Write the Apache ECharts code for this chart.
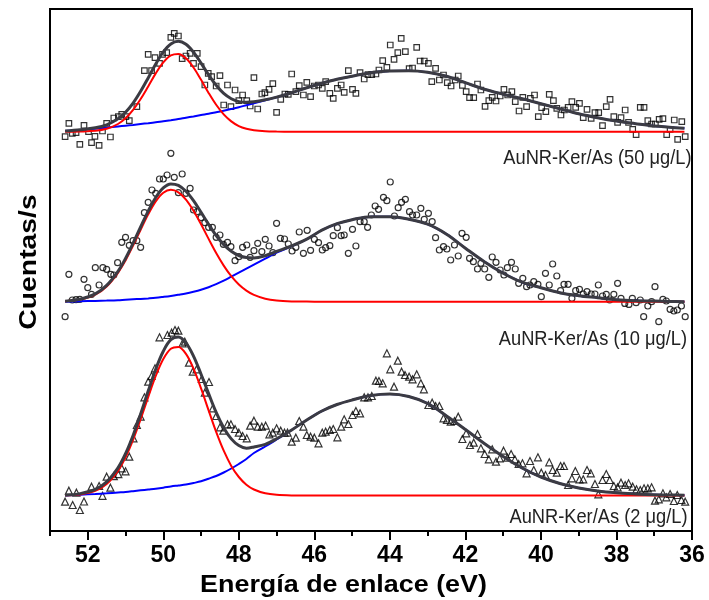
<!DOCTYPE html>
<html>
<head>
<meta charset="utf-8">
<script src="https://cdn.jsdelivr.net/npm/echarts@6/dist/echarts.min.js"></script>
<style>
  html, body { margin: 0; padding: 0; background: #fff; }
  #chart { width: 709px; height: 600px; }
</style>
</head>
<body>
<div id="chart"></div>
<script>
// Binding energy axis (eV), drawn high to low
const energyTicks = [52, 50, 48, 46, 44, 42, 40, 38, 36];
const energyMinorTicks = [53, 51, 49, 47, 45, 43, 41, 39, 37];

// Sample names, bottom to top
const sampleLabels = ['AuNR-Ker/As (2 μg/L)', 'AuNR-Ker/As (10 μg/L)', 'AuNR-Ker/As (50 μg/L)'];

// Vertical offset of each spectrum (counts, arbitrary units), bottom to top
const baselineOffsets = [35.5, 229.3, 399.3];

// Energies where the fitted curves are sampled
const fitEnergy = [52.6, 52.2, 51.8, 51.5, 51.2, 51.0, 50.8, 50.6, 50.4, 50.2,
  50.0, 49.8, 49.6, 49.4, 49.2, 49.0, 48.8, 48.6, 48.4, 48.2,
  48.0, 47.8, 47.6, 47.3, 47.0, 46.6, 46.2, 45.8, 45.4, 45.0,
  44.5, 44.0, 43.5, 43.0, 42.5, 42.0, 41.5, 41.0, 40.5, 40.0,
  39.5, 39.0, 38.5, 38.0, 37.5, 37.0, 36.6, 36.2];

// ---- 2 μg/L ----
const peakA_2 = [0.2, 1.1, 4.6, 11.5, 24.7, 38.3, 55.7, 76.3, 98.4, 119.5,
  136.5, 146.8, 148.6, 141.6, 126.9, 107.1, 85.1, 63.6, 44.8, 29.6,
  18.5, 10.8, 6.0, 2.2, 0.7, 0.1, 0, 0, 0, 0,
  0, 0, 0, 0, 0, 0, 0, 0, 0, 0,
  0, 0, 0, 0, 0, 0, 0, 0];
const peakB_2 = [0, 0.8, 1.5, 2.2, 3.0, 3.5, 4.3, 5.2, 6.0, 6.8,
  7.8, 9.0, 10.0, 11.0, 12.5, 14.2, 16.8, 19.5, 23.0, 27.0,
  31.5, 36.5, 42.5, 49.0, 56.0, 65.5, 75.5, 84.5, 91.0, 95.5,
  100.0, 101.5, 99.0, 92.0, 79.5, 66.0, 52.0, 39.0, 27.5, 18.5,
  12.0, 7.5, 4.5, 2.7, 1.6, 0.8, 0.5, 0.2];
const envelope_2 = [0.2, 1.9, 6.1, 13.7, 27.7, 41.8, 60.0, 81.5, 104.4, 126.3,
  144.3, 155.8, 158.6, 152.6, 139.4, 121.3, 101.9, 83.1, 67.8, 56.6,
  50.0, 47.3, 48.5, 51.2, 56.7, 65.6, 75.5, 84.5, 91.0, 95.5,
  100.0, 101.5, 99.0, 92.0, 79.5, 66.0, 52.0, 39.0, 27.5, 18.5,
  12.0, 7.5, 4.5, 2.7, 1.6, 0.8, 0.5, 0.2];
const counts_2 = [
  [52.60,-6.2],[52.50,4.8],[52.40,-9.5],[52.30,2.8],[52.21,-14.5],[52.10,-6.0],[51.90,8.8],[51.70,9.5],
  [51.61,-0.3],[51.50,18.8],[51.40,7.8],[51.31,19.3],[51.19,21.3],[51.10,27.2],[51.00,24.2],[50.90,38.8],
  [50.79,57.2],[50.70,70.5],[50.60,78.8],[50.50,98.2],[50.40,113.8],[50.31,119.5],[50.22,127.2],[50.10,158.2],
  [49.89,160.5],[49.78,162.8],[49.69,165.5],[49.60,164.8],[49.49,152.2],[49.43,153.8],[49.32,132.8],[49.22,123.8],
  [49.12,126.2],[48.98,116.5],[48.90,102.8],[48.79,113.5],[48.69,87.2],[48.60,79.5],[48.50,68.2],[48.41,64.8],
  [48.30,71.2],[48.21,71.2],[48.10,66.5],[48.00,62.8],[47.90,59.5],[47.79,57.2],[47.70,69.8],[47.60,74.8],
  [47.50,68.8],[47.39,68.8],[47.29,69.8],[47.19,61.2],[47.10,62.8],[47.00,67.2],[46.89,64.8],[46.79,62.8],
  [46.71,62.8],[46.60,53.8],[46.49,57.8],[46.40,74.5],[46.29,68.8],[46.20,60.5],[46.10,58.8],[46.00,57.8],
  [45.89,52.2],[45.79,62.8],[45.70,63.8],[45.59,65.5],[45.50,66.5],[45.39,58.2],[45.29,68.8],[45.21,76.2],
  [45.10,71.5],[44.99,80.5],[44.90,84.5],[44.79,82.2],[44.68,98.2],[44.58,98.2],[44.48,99.5],[44.37,114.8],
  [44.29,114.5],[44.19,112.2],[44.08,142.2],[43.99,126.2],[43.89,108.8],[43.79,134.8],[43.69,123.8],[43.60,120.5],
  [43.49,118.8],[43.40,116.2],[43.29,121.2],[43.18,112.2],[43.10,106.2],[42.98,90.5],[42.88,92.8],[42.79,89.5],
  [42.69,89.5],[42.58,77.2],[42.49,75.5],[42.39,73.8],[42.29,74.5],[42.19,78.8],[42.08,56.5],[41.98,62.2],
  [41.88,50.5],[41.78,52.8],[41.68,61.5],[41.59,47.2],[41.49,41.5],[41.38,36.2],[41.29,46.2],[41.19,33.8],
  [41.09,37.2],[40.99,44.8],[40.89,37.8],[40.79,41.5],[40.69,36.2],[40.59,31.5],[40.49,32.2],[40.38,22.2],
  [40.29,34.5],[40.19,25.5],[40.08,38.2],[39.99,22.8],[39.88,20.5],[39.78,33.2],[39.69,25.5],[39.58,22.8],
  [39.48,29.5],[39.39,29.5],[39.28,10.5],[39.18,17.2],[39.09,24.5],[38.98,16.2],[38.88,16.2],[38.78,25.5],
  [38.68,22.2],[38.57,11.5],[38.48,1.2],[38.37,15.5],[38.27,21.5],[38.18,15.5],[38.07,9.5],[37.97,8.2],
  [37.88,12.8],[37.77,10.5],[37.68,12.2],[37.57,8.8],[37.47,6.2],[37.37,5.5],[37.27,7.2],[37.17,7.2],
  [37.07,8.2],[36.98,-5.2],[36.88,-3.8],[36.77,2.2],[36.68,-1.8],[36.58,1.5],[36.48,-5.5],[36.39,0.5],
  [36.28,-4.5],[36.18,-6.2]
];

// ---- 10 μg/L ----
const peakA_10 = [0.5, 2.1, 7.0, 15.2, 28.9, 41.3, 56.1, 71.9, 87.3, 100.3,
  109.0, 112.0, 109.4, 102.1, 91.0, 77.4, 62.8, 48.7, 36.1, 25.5,
  17.2, 11.1, 6.8, 3.0, 1.2, 0.3, 0.1, 0, 0, 0,
  0, 0, 0, 0, 0, 0, 0, 0, 0, 0,
  0, 0, 0, 0, 0, 0, 0, 0];
const peakB_10 = [0, 0.4, 0.8, 1.1, 1.5, 2.0, 2.4, 2.8, 3.3, 3.9,
  4.8, 5.8, 7.0, 8.3, 10.0, 12.0, 14.5, 17.5, 21.0, 25.0,
  29.0, 33.0, 37.0, 43.0, 49.0, 55.5, 62.5, 71.5, 78.0, 82.0,
  85.0, 85.0, 82.5, 77.5, 67.5, 53.5, 40.0, 28.5, 19.5, 14.0,
  9.0, 6.0, 4.0, 2.0, 1.0, 0.7, 0.3, 0];
const envelope_10 = [0.5, 2.5, 7.8, 16.3, 30.4, 43.3, 58.5, 74.7, 90.6, 104.2,
  113.8, 117.8, 116.4, 110.4, 101.0, 89.4, 77.3, 66.2, 57.1, 50.5,
  46.2, 44.1, 43.8, 46.0, 50.2, 55.8, 62.6, 71.5, 78.0, 82.0,
  85.0, 85.0, 82.5, 77.5, 67.5, 53.5, 40.0, 28.5, 19.5, 14.0,
  9.0, 6.0, 4.0, 2.0, 1.0, 0.7, 0.3, 0];
const counts_10 = [
  [52.60,-15.0],[52.50,27.4],[52.41,1.7],[52.31,2.0],[52.21,2.4],[52.10,22.4],[52.00,14.0],[51.90,7.4],
  [51.80,34.0],[51.70,16.7],[51.60,34.0],[51.50,32.4],[51.39,27.4],[51.31,26.7],[51.21,39.0],[51.10,59.4],
  [51.00,64.4],[50.90,56.4],[50.80,61.0],[50.70,61.0],[50.60,54.4],[50.50,89.0],[50.40,99.4],[50.30,111.7],
  [50.20,108.4],[50.10,122.7],[50.00,122.7],[49.90,126.7],[49.80,148.4],[49.71,124.4],[49.60,109.0],[49.50,127.7],
  [49.40,108.4],[49.29,113.4],[49.20,91.7],[49.10,90.0],[49.00,84.0],[48.90,79.0],[48.80,74.4],[48.70,74.4],
  [48.60,64.4],[48.50,66.7],[48.41,57.4],[48.30,59.4],[48.21,55.0],[48.10,41.0],[48.00,45.0],[47.90,54.4],
  [47.79,56.7],[47.70,44.4],[47.60,51.0],[47.50,58.4],[47.39,50.0],[47.30,62.4],[47.20,55.7],[47.10,49.0],
  [47.00,78.4],[46.90,63.4],[46.79,62.7],[46.69,57.7],[46.59,50.7],[46.49,54.4],[46.40,69.7],[46.29,48.4],
  [46.19,71.4],[46.10,51.4],[46.00,62.4],[45.89,59.0],[45.79,51.7],[45.70,54.0],[45.59,56.0],[45.50,66.0],
  [45.39,74.0],[45.29,66.0],[45.21,66.7],[45.10,48.4],[44.99,72.4],[44.90,55.7],[44.79,80.0],[44.68,80.0],
  [44.59,74.4],[44.49,86.7],[44.39,95.7],[44.30,92.4],[44.17,104.4],[44.08,101.0],[43.99,119.7],[43.88,85.7],
  [43.78,94.0],[43.69,99.4],[43.59,102.4],[43.48,90.0],[43.40,86.7],[43.29,86.7],[43.18,93.4],[43.09,82.4],
  [42.98,88.4],[42.88,80.0],[42.79,64.0],[42.69,51.7],[42.58,55.0],[42.49,52.7],[42.39,41.7],[42.29,56.7],
  [42.19,45.7],[42.09,68.4],[41.98,64.4],[41.89,43.4],[41.79,40.0],[41.68,32.7],[41.59,38.4],[41.49,32.7],
  [41.38,24.4],[41.29,44.7],[41.19,39.4],[41.08,31.7],[40.98,26.7],[40.89,34.0],[40.78,39.4],[40.68,32.7],
  [40.59,18.4],[40.48,23.4],[40.38,15.0],[40.29,16.7],[40.19,20.0],[40.08,17.4],[39.99,5.0],[39.88,28.4],
  [39.78,16.7],[39.69,37.7],[39.58,25.7],[39.48,11.0],[39.39,17.4],[39.28,17.4],[39.18,3.4],[39.08,11.0],
  [38.98,12.4],[38.88,7.7],[38.78,10.0],[38.67,7.7],[38.57,7.7],[38.48,16.7],[38.37,5.7],[38.27,7.4],
  [38.18,1.7],[38.07,7.4],[37.97,18.4],[37.88,3.4],[37.78,-1.7],[37.67,-2.7],[37.58,3.4],[37.48,-1.0],
  [37.37,1.7],[37.28,-15.0],[37.17,-4.3],[37.07,0.0],[36.98,15.0],[36.88,-20.0],[36.77,2.4],[36.68,0.7],
  [36.58,-7.6],[36.48,-9.3],[36.39,-8.3],[36.28,-4.3],[36.18,-15.0]
];

// ---- 50 μg/L ----
const peakA_50 = [0, 0.2, 0.9, 2.9, 7.7, 13.4, 21.8, 32.7, 45.3, 58.3,
  69.3, 76.3, 77.8, 73.4, 64.2, 51.9, 38.8, 26.9, 17.3, 10.3,
  5.6, 2.9, 1.4, 0.4, 0.1, 0, 0, 0, 0, 0,
  0, 0, 0, 0, 0, 0, 0, 0, 0, 0,
  0, 0, 0, 0, 0, 0, 0, 0];
const peakB_50 = [0.7, 1.8, 3.0, 4.0, 5.2, 6.0, 6.8, 7.7, 8.5, 9.4,
  10.5, 11.5, 12.6, 14.0, 15.3, 16.7, 18.0, 19.5, 21.0, 22.7,
  24.5, 26.5, 28.5, 31.5, 34.5, 39.0, 44.0, 48.5, 52.5, 55.5,
  59.0, 60.8, 61.0, 59.5, 55.5, 49.0, 42.5, 37.5, 33.0, 28.0,
  23.0, 18.0, 14.0, 10.6, 8.0, 5.6, 4.5, 3.4];
const envelope_50 = [0.7, 2.0, 3.9, 6.9, 12.9, 19.4, 28.6, 40.4, 53.8, 67.7,
  79.8, 87.8, 90.4, 87.4, 79.5, 68.6, 56.8, 46.4, 38.3, 33.0,
  30.1, 29.4, 29.9, 31.9, 34.6, 39.0, 44.0, 48.5, 52.5, 55.5,
  59.0, 60.8, 61.0, 59.5, 55.5, 49.0, 42.5, 37.5, 33.0, 28.0,
  23.0, 18.0, 14.0, 10.6, 8.0, 5.6, 4.5, 3.4];
const counts_50 = [
  [52.60,-5.0],[52.50,8.4],[52.41,-1.6],[52.31,-1.0],[52.21,-12.6],[52.10,6.4],[51.98,0.0],[51.90,-11.0],
  [51.81,-4.6],[51.70,-13.6],[51.61,0.7],[51.50,8.4],[51.40,-5.3],[51.31,13.7],[51.19,15.0],[51.10,17.4],
  [50.99,15.0],[50.90,11.0],[50.70,25.0],[50.50,61.0],[50.40,77.4],[50.31,61.0],[50.22,74.0],[50.10,68.4],
  [50.02,77.4],[49.91,79.0],[49.80,94.4],[49.71,98.4],[49.60,95.7],[49.50,73.0],[49.40,75.7],[49.29,78.4],
  [49.20,68.4],[49.10,78.4],[49.00,65.0],[48.90,46.7],[48.81,58.4],[48.72,55.0],[48.60,45.7],[48.50,56.0],
  [48.40,26.7],[48.30,46.7],[48.21,25.0],[48.10,41.7],[48.00,31.0],[47.90,36.7],[47.79,31.0],[47.70,25.7],
  [47.60,54.0],[47.50,22.7],[47.39,37.7],[47.31,39.0],[47.20,42.4],[47.10,48.0],[47.00,19.4],[46.89,32.4],
  [46.78,37.7],[46.69,37.4],[46.60,57.7],[46.49,40.0],[46.40,46.0],[46.29,36.7],[46.20,49.4],[46.10,35.0],
  [46.00,45.7],[45.89,46.7],[45.79,43.4],[45.70,50.0],[45.59,38.4],[45.50,33.4],[45.39,43.4],[45.29,46.7],
  [45.21,39.4],[45.10,61.0],[44.99,42.4],[44.90,38.4],[44.79,59.0],[44.68,52.7],[44.58,57.0],[44.48,57.0],
  [44.37,57.7],[44.29,61.7],[44.19,71.0],[44.08,64.4],[43.99,86.7],[43.89,72.4],[43.79,79.0],[43.70,93.4],
  [43.59,80.0],[43.49,63.0],[43.40,63.7],[43.29,84.4],[43.20,70.7],[43.09,70.7],[42.98,68.4],[42.89,50.0],
  [42.79,63.4],[42.69,51.7],[42.58,56.7],[42.48,49.0],[42.38,45.7],[42.27,51.7],[42.19,55.7],[42.08,46.4],
  [41.98,40.0],[41.89,34.0],[41.78,34.0],[41.68,47.7],[41.59,41.7],[41.48,25.4],[41.38,31.0],[41.29,34.4],
  [41.19,30.7],[41.08,35.7],[40.98,42.4],[40.88,36.7],[40.77,40.0],[40.68,30.0],[40.58,20.7],[40.48,34.4],
  [40.38,25.0],[40.28,33.4],[40.17,36.7],[40.07,15.0],[39.98,24.0],[39.87,20.0],[39.78,37.4],[39.67,31.0],
  [39.58,23.4],[39.47,16.7],[39.38,21.7],[39.28,24.4],[39.18,30.0],[39.08,24.4],[38.98,28.4],[38.88,14.0],
  [38.78,22.4],[38.67,13.4],[38.57,19.0],[38.47,19.0],[38.37,6.0],[38.27,25.0],[38.17,32.4],[38.07,15.0],
  [37.97,9.4],[37.88,14.0],[37.77,21.7],[37.68,9.4],[37.57,2.4],[37.48,-3.0],[37.37,24.4],[37.27,24.4],
  [37.17,11.0],[37.07,7.7],[36.97,7.7],[36.87,12.4],[36.77,13.0],[36.67,-3.0],[36.58,2.4],[36.47,11.7],
  [36.38,-7.6],[36.27,10.0],[36.18,-5.0]
];

const spectra = [
  { counts: counts_2,  peakA: peakA_2,  peakB: peakB_2,  envelope: envelope_2,  symbol: 'triangle', size: 7 },
  { counts: counts_10, peakA: peakA_10, peakB: peakB_10, envelope: envelope_10, symbol: 'circle',   size: 6 },
  { counts: counts_50, peakA: peakA_50, peakB: peakB_50, envelope: envelope_50, symbol: 'rect',     size: 5.5 }
];

const BOLD = '"Liberation Sans", Arial, Helvetica, sans-serif';

function curve(values, offset) {
  return fitEnergy.map((e, k) => [e, values[k] + offset]);
}

const series = [];
spectra.forEach((s, i) => {
  const off = baselineOffsets[i];
  series.push({
    type: 'scatter', name: sampleLabels[i], z: 1,
    symbol: s.symbol, symbolSize: s.size,
    itemStyle: { color: 'rgba(255,255,255,0)', borderColor: '#000', borderWidth: 1.2 },
    data: s.counts.map(p => [p[0], p[1] + off])
  });
  series.push({
    type: 'line', z: 2, smooth: 0.35, showSymbol: false,
    lineStyle: { color: '#0000ff', width: 2 },
    data: curve(s.peakB, off)
  });
  series.push({
    type: 'line', z: 3, smooth: 0.35, showSymbol: false,
    lineStyle: { color: '#ff0000', width: 2 },
    data: curve(s.peakA, off)
  });
  series.push({
    type: 'line', z: 4, smooth: 0.35, showSymbol: false,
    lineStyle: { color: '#3b3b43', width: 3 },
    data: curve(s.envelope, off)
  });
});

const labelPos = [
  { x: 687.5, y: 517 },
  { x: 687, y: 339.5 },
  { x: 691.5, y: 158 }
];

const chart = echarts.init(document.getElementById('chart'), null, { renderer: 'canvas' });
chart.setOption({
  animation: false,
  backgroundColor: '#fff',
  grid: { left: 50, right: 17, top: 9, bottom: 69, show: true, borderColor: '#000', borderWidth: 2 },
  xAxis: [{
    type: 'value', min: 36, max: 53, inverse: true,
    axisLine: { show: true, lineStyle: { color: '#000', width: 2 } },
    axisTick: { show: true, length: 9, lineStyle: { color: '#000', width: 2 }, customValues: energyTicks },
    axisLabel: {
      customValues: energyTicks, color: '#000', fontSize: 23, fontWeight: 'bold',
      fontFamily: BOLD, margin: 13
    },
    splitLine: { show: false }
  }, {
    type: 'value', min: 36, max: 53, inverse: true, position: 'bottom',
    axisLine: { show: false },
    axisTick: { show: true, length: 5, lineStyle: { color: '#000', width: 2 }, customValues: energyMinorTicks },
    axisLabel: { show: false },
    splitLine: { show: false }
  }],
  yAxis: {
    type: 'value', min: 0, max: 522,
    axisLine: { show: false }, axisTick: { show: false }, axisLabel: { show: false },
    splitLine: { show: false }
  },
  series: series,
  graphic: [
    {
      type: 'text', x: 343.5, y: 585, scaleX: 1.12, z: 10,
      style: { text: 'Energía de enlace (eV)', font: 'bold 24px ' + BOLD, fill: '#000',
        textAlign: 'center', textVerticalAlign: 'middle' }
    },
    {
      type: 'text', x: 29, y: 262, rotation: Math.PI / 2, scaleX: 1.18, z: 10,
      style: { text: 'Cuentas/s', font: 'bold 24px ' + BOLD, fill: '#000',
        textAlign: 'center', textVerticalAlign: 'middle' }
    }
  ].concat(sampleLabels.map((t, i) => ({
    type: 'text', x: labelPos[i].x, y: labelPos[i].y, scaleX: 0.87, z: 10,
    style: { text: t, font: '21px "Liberation Sans", Arial, sans-serif', fill: '#222',
      textAlign: 'right', textVerticalAlign: 'middle' }
  })))
});
</script>
</body>
</html>
